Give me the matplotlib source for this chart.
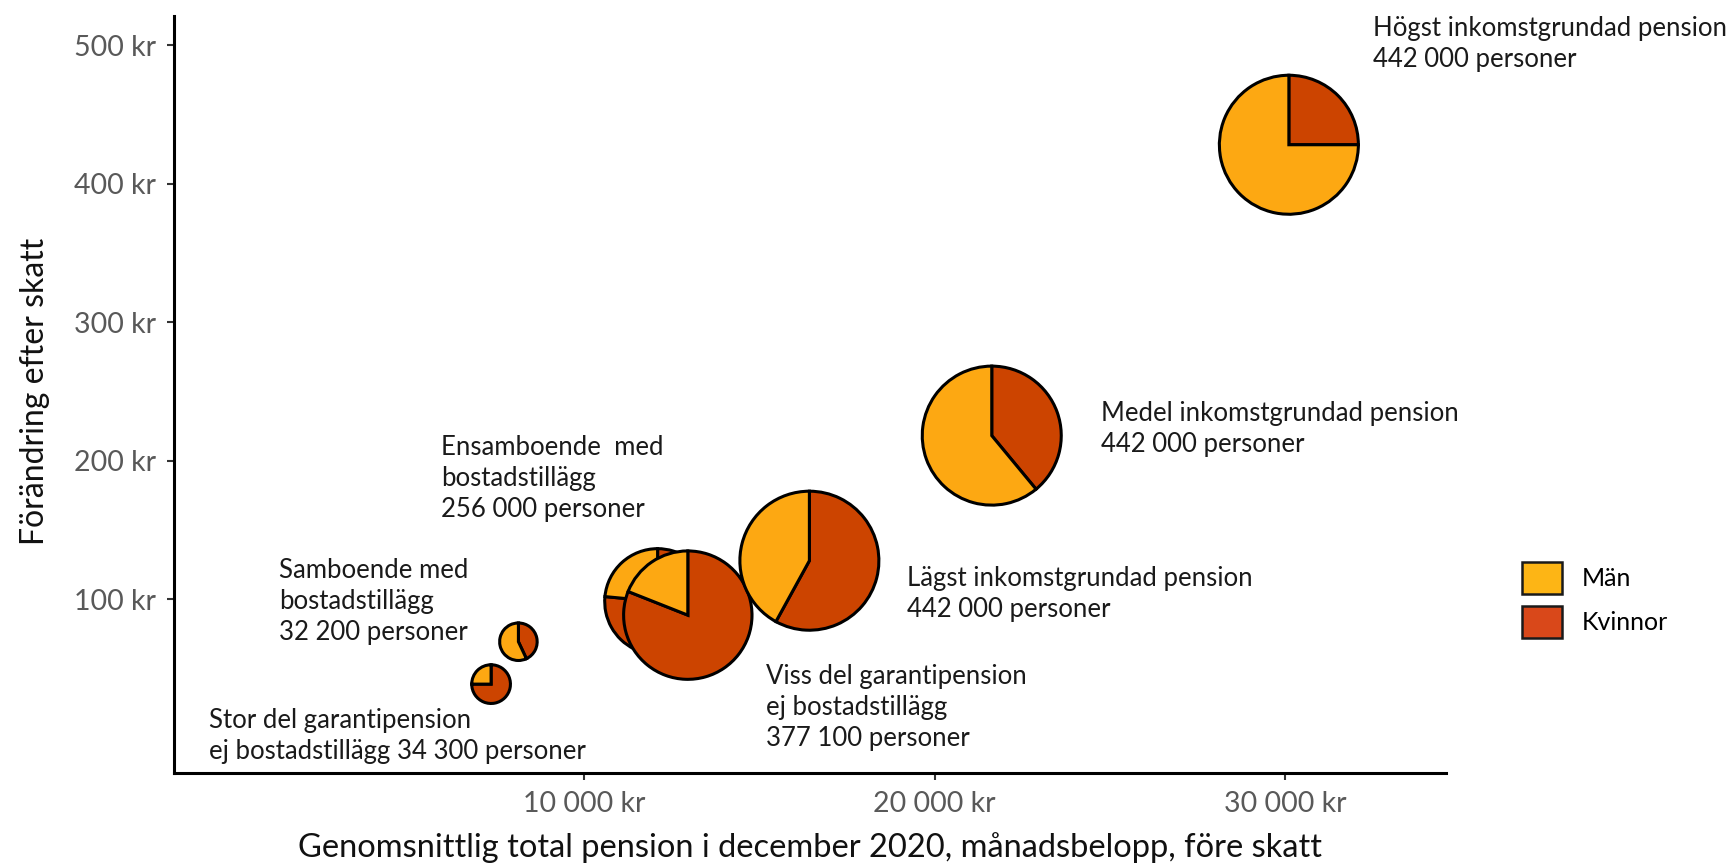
import matplotlib
matplotlib.use("Agg")
import matplotlib.pyplot as plt
from matplotlib.patches import Wedge, Patch
from matplotlib.transforms import ScaledTranslation
import numpy as np

plt.rcParams['font.family'] = ['Lato', 'DejaVu Sans']

# groups, average pension (kr/month), change after tax (kr), persons, share women
groups = ["Stor del garantipension", "Samboende med bostadstillägg",
          "Ensamboende med bostadstillägg", "Viss del garantipension",
          "Lägst inkomstgrundad pension", "Medel inkomstgrundad pension",
          "Högst inkomstgrundad pension"]
pension = [7357, 8136, 12104, 12965, 16431, 21630, 30100]
change = [38.6, 69.2, 98.2, 88.4, 127.7, 218, 428]
persons = [34300, 32200, 256000, 377100, 442000, 442000, 442000]
share_women = [0.75, 0.43, 0.765, 0.81, 0.58, 0.39, 0.25]

labels = ["Stor del garantipension\nej bostadstillägg 34 300 personer",
          "Samboende med\nbostadstillägg\n32 200 personer",
          "Ensamboende  med\nbostadstillägg\n256 000 personer",
          "Viss del garantipension\nej bostadstillägg\n377 100 personer",
          "Lägst inkomstgrundad pension\n442 000 personer",
          "Medel inkomstgrundad pension\n442 000 personer",
          "Högst inkomstgrundad pension\n442 000 personer"]
label_pos = [(-681, 1.4), (1306, 98.6), (5921, 187.4), (15182, 22),
             (19202, 103.6), (24746, 223), (32500, 500.7)]

xticks = [10000, 20000, 30000]
xticklabels = ["10 000 kr", "20 000 kr", "30 000 kr"]
yticks = [100, 200, 300, 400, 500]
yticklabels = ["100 kr", "200 kr", "300 kr", "400 kr", "500 kr"]

c_men = '#FDA812'
c_women = '#CC4400'

fig = plt.figure(figsize=(17.27, 8.68), dpi=100)
ax = fig.add_axes([0.1008, 0.1094, 0.7365, 0.8716])
ax.set_xlim(-1680, 34580)
ax.set_ylim(-25.6, 520.6)

# pies, radius in inches proportional to sqrt(persons)
for i in range(len(groups)):
    r = 0.695 * np.sqrt(persons[i] / 442000)
    trans = fig.dpi_scale_trans + ScaledTranslation(pension[i], change[i], ax.transData)
    w = share_women[i] * 360
    ax.add_patch(Wedge((0, 0), r, 90 - w, 90, transform=trans, facecolor=c_women,
                       edgecolor='black', lw=2.2, zorder=3 + i))
    ax.add_patch(Wedge((0, 0), r, 90, 450 - w, transform=trans, facecolor=c_men,
                       edgecolor='black', lw=2.2, zorder=3 + i))

for (lx, ly), t in zip(label_pos, labels):
    ax.text(lx, ly, t, fontsize=18.5, color='#1a1a1a', ha='left', va='center',
            linespacing=1.3, zorder=20)

for s in ['top', 'right']:
    ax.spines[s].set_visible(False)
for s in ['left', 'bottom']:
    ax.spines[s].set_linewidth(2.2)

ax.set_xticks(xticks)
ax.set_xticklabels(xticklabels)
ax.set_yticks(yticks)
ax.set_yticklabels(yticklabels)
ax.tick_params(axis='both', labelsize=20.5, labelcolor='#595959', color='#333333',
               length=5, width=1.5)
ax.tick_params(axis='x', pad=8)
ax.tick_params(axis='y', pad=8)

fig.text(810 / 1727, 1 - 848 / 868, "Genomsnittlig total pension i december 2020, månadsbelopp, före skatt",
         fontsize=23.5, color='#111111', ha='center', va='center')
fig.text(35 / 1727, 1 - 391 / 868, "Förändring efter skatt", fontsize=23, color='#111111',
         ha='center', va='center', rotation=90)

handles = [Patch(facecolor='#FDB515', edgecolor='#1a1a1a', lw=1.8, label='Män'),
           Patch(facecolor='#D9481A', edgecolor='#1a1a1a', lw=1.8, label='Kvinnor')]
fig.legend(handles=handles, loc='center left', bbox_to_anchor=(1522 / 1727, 1 - 600 / 868),
           frameon=False, fontsize=18, handlelength=1.6, handleheight=1.6,
           handletextpad=0.8, labelspacing=0.5, borderpad=0, borderaxespad=0)

fig.savefig('out.png', dpi=100, facecolor='white')
